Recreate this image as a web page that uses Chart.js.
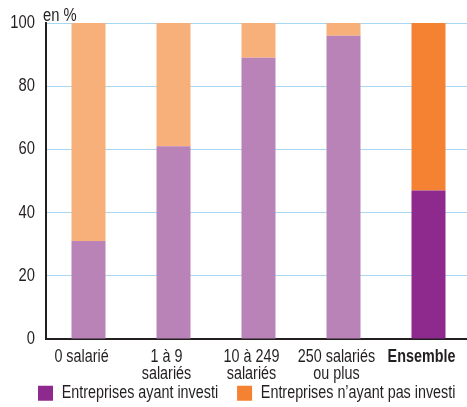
<!DOCTYPE html>
<html lang="fr">
<head>
<meta charset="utf-8">
<title>Entreprises ayant investi selon la taille</title>
<script src="https://cdn.jsdelivr.net/npm/chart.js@4/dist/chart.umd.min.js"></script>
<style>
  html, body { margin: 0; padding: 0; background: #ffffff; overflow: hidden; }
  #wrap { width: 471px; height: 407px; }
</style>
</head>
<body>
<div id="wrap"><canvas id="chart" width="471" height="407"></canvas></div>
<script>
// Catégories (taille de l'entreprise)
const categories = [
  ['0 salarié'],
  ['1 à 9', 'salariés'],
  ['10 à 249', 'salariés'],
  ['250 salariés', 'ou plus'],
  ['Ensemble']
];
// Part des entreprises, en %
const ayantInvesti = [31, 61, 89, 96, 47];
const nAyantPasInvesti = [69, 39, 11, 4, 53];
const yTicks = [0, 20, 40, 60, 80, 100];
const seriesLabels = ['Entreprises ayant investi', 'Entreprises n\u2019ayant pas investi'];

const FONT = "'Liberation Sans', Arimo, Arial, sans-serif";
const TEXT = '#231f20';

const purpleLight = '#b983b8', purpleDark = '#8e2a8e';
const orangeLight = '#f8b07b', orangeDark = '#f58233';
const barColors = (light, dark) => categories.map((_, i) => i === categories.length - 1 ? dark : light);

const canvas = document.getElementById('chart');
const ctx2d = canvas.getContext('2d');

// Condensed lettering: every text run is drawn and measured at 82 % width
const CONDENSE = 0.82;
const nativeFillText = ctx2d.fillText.bind(ctx2d);
const nativeMeasureText = ctx2d.measureText.bind(ctx2d);
ctx2d.fillText = function (text, x, y) {
  this.save();
  this.translate(x, y);
  this.scale(CONDENSE, 1);
  nativeFillText(text, 0, 0);
  this.restore();
};
ctx2d.measureText = function (text) {
  const m = nativeMeasureText(text);
  return {
    width: m.width * CONDENSE,
    actualBoundingBoxLeft: m.actualBoundingBoxLeft * CONDENSE,
    actualBoundingBoxRight: m.actualBoundingBoxRight * CONDENSE,
    actualBoundingBoxAscent: m.actualBoundingBoxAscent,
    actualBoundingBoxDescent: m.actualBoundingBoxDescent
  };
};

// Unit shown above the vertical axis
const unitLabel = {
  id: 'unitLabel',
  afterDraw(chart) {
    const { ctx, chartArea } = chart;
    ctx.save();
    ctx.font = '18px ' + FONT;
    ctx.fillStyle = TEXT;
    ctx.textAlign = 'left';
    ctx.textBaseline = 'alphabetic';
    ctx.fillText('en %', chartArea.left - 3, chartArea.top - 2.5);
    ctx.restore();
  }
};

// Legend row placed just under the category labels, starting near the left edge
const legendPlacement = {
  id: 'legendPlacement',
  afterLayout(chart) {
    const lg = chart.legend;
    if (!lg) return;
    const dx = 19;
    lg.left += dx;
    lg.right += dx + 40;
    lg.width = lg.right - lg.left;
    lg.top = 365.5;
    lg.bottom = lg.top + lg.height;
  }
};

new Chart(canvas, {
  type: 'bar',
  data: {
    labels: categories,
    datasets: [
      { label: seriesLabels[0], data: ayantInvesti, backgroundColor: barColors(purpleLight, purpleDark) },
      { label: seriesLabels[1], data: nAyantPasInvesti, backgroundColor: barColors(orangeLight, orangeDark) }
    ]
  },
  options: {
    responsive: false,
    animation: false,
    layout: { padding: { top: 23, left: 0, right: 0, bottom: -25.5 } },
    datasets: { bar: { categoryPercentage: 0.4, barPercentage: 1 } },
    plugins: {
      tooltip: { enabled: false },
      legend: {
        position: 'bottom',
        align: 'start',
        labels: {
          color: TEXT,
          font: { family: FONT, size: 17.5 },
          boxWidth: 15,
          boxHeight: 15,
          padding: 19,
          generateLabels(chart) {
            return chart.data.datasets.map((ds, i) => ({
              text: ds.label,
              fillStyle: i === 0 ? purpleDark : orangeDark,
              strokeStyle: 'rgba(0,0,0,0)',
              lineWidth: 0,
              datasetIndex: i,
              fontColor: TEXT
            }));
          }
        }
      }
    },
    scales: {
      x: {
        stacked: true,
        afterFit(scale) { scale.height = 47; },
        grid: { display: false },
        border: { color: '#231f20', width: 2 },
        ticks: {
          color: TEXT,
          padding: 1,
          labelOffset: -7,
          maxRotation: 0,
          autoSkip: false,
          font: (ctx) => ({
            family: FONT,
            size: 17.5,
            lineHeight: 1.0,
            weight: ctx.index === categories.length - 1 ? 'bold' : 'normal'
          })
        }
      },
      y: {
        stacked: true,
        min: 0,
        max: 100,
        afterFit(scale) { scale.width = 46; },
        afterBuildTicks(scale) { scale.ticks = yTicks.map(v => ({ value: v })); },
        border: { color: '#231f20', width: 2 },
        grid: {
          drawTicks: false,
          lineWidth: 1,
          color: (ctx) => ctx.tick && ctx.tick.value === 0 ? 'rgba(0,0,0,0)' : '#a9d6f1'
        },
        ticks: {
          color: TEXT,
          padding: 11,
          font: { family: FONT, size: 18 }
        }
      }
    }
  },
  plugins: [unitLabel, legendPlacement]
});
</script>
</body>
</html>
